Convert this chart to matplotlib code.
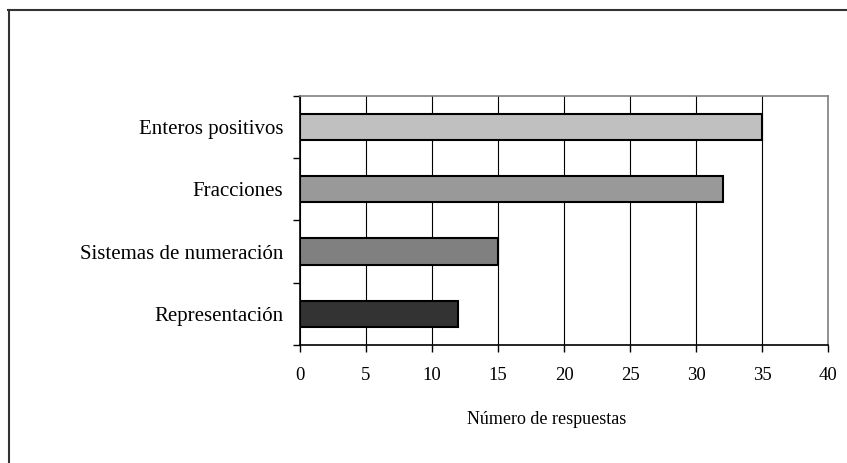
import matplotlib.pyplot as plt
import numpy as np
from matplotlib.lines import Line2D

categorias = ['Enteros positivos', 'Fracciones', 'Sistemas de numeración', 'Representación']
respuestas = [35, 32, 15, 12]
colores = ['#c0c0c0', '#999999', '#808080', '#333333']
xticks = [0, 5, 10, 15, 20, 25, 30, 35, 40]

plt.rcParams['font.family'] = ['Liberation Serif', 'DejaVu Serif']

fig = plt.figure(figsize=(8.47, 4.63), dpi=100)
ax = fig.add_axes([0.354, 0.255, 0.624, 0.538])

pos = np.arange(len(categorias))[::-1]
ax.barh(pos, respuestas, height=0.42, color=colores, edgecolor='black', linewidth=1.5, zorder=3)

ax.set_xlim(0, 40)
ax.set_ylim(-0.5, 3.5)
ax.set_xticks(xticks)
ax.set_xticklabels([str(v) for v in xticks], fontsize=13.5)
ax.xaxis.grid(True, color='black', linewidth=0.8, zorder=0)

ax.set_yticks(pos)
ax.set_yticklabels(categorias, fontsize=15)
ax.tick_params(axis='y', length=0, pad=12)
ax.set_yticks(np.arange(-0.5, 4.0, 1.0), minor=True)
ax.tick_params(axis='y', which='minor', length=5, direction='out', width=1)
ax.tick_params(axis='x', length=5, direction='out', width=1, pad=11)

for s in ['top', 'right']:
    ax.spines[s].set_color('#808080')
    ax.spines[s].set_linewidth(1.2)
for s in ['left', 'bottom']:
    ax.spines[s].set_color('black')
    ax.spines[s].set_linewidth(1.2)

ax.set_xlabel('Número de respuestas', fontsize=13)
ax.xaxis.set_label_coords(0.466, -0.265)

# partial border of the original frame
fig.add_artist(Line2D([8 / 847, 1], [1 - 10 / 463, 1 - 10 / 463], transform=fig.transFigure, color='#333333', linewidth=1.5))
fig.add_artist(Line2D([9 / 847, 9 / 847], [0, 1 - 10 / 463], transform=fig.transFigure, color='#333333', linewidth=1.5))

fig.savefig('out.png', dpi=100)
